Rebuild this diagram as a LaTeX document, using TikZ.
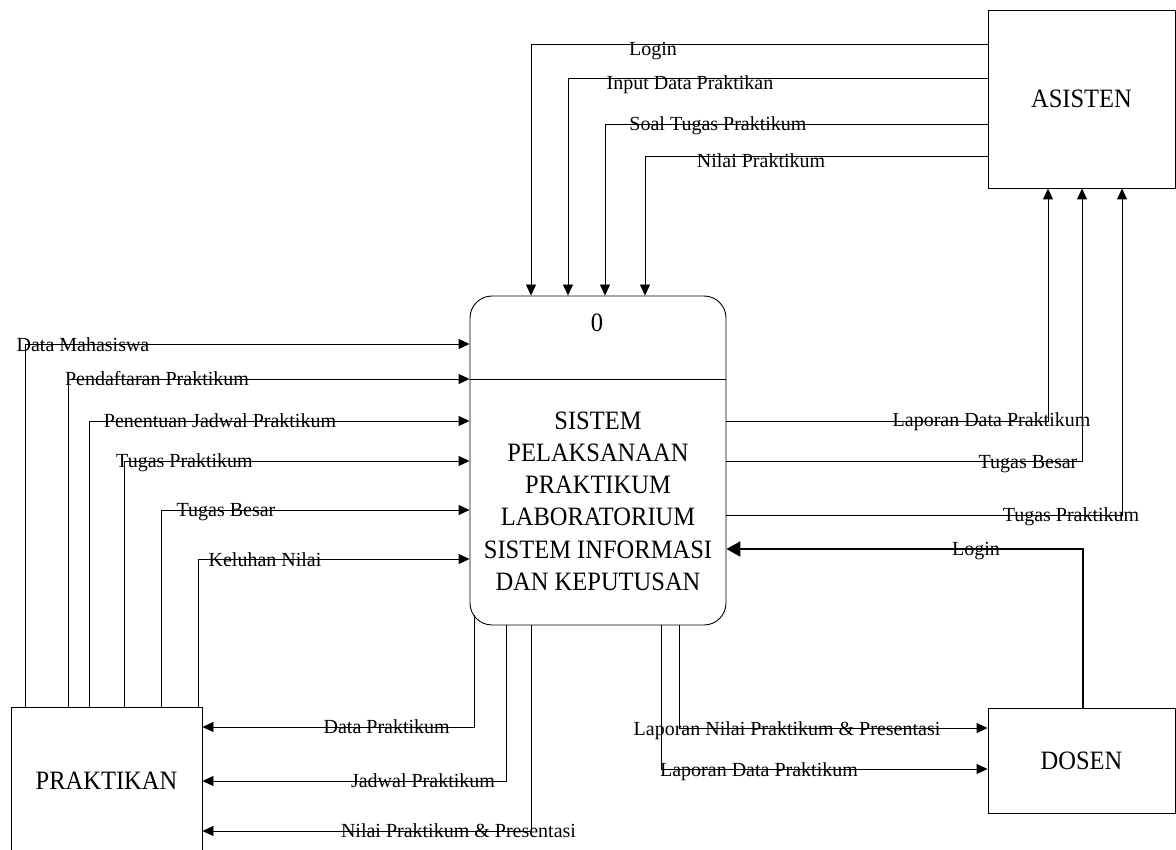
\documentclass[tikz,border=0pt]{standalone}
\usepackage{fontspec}
\setmainfont{Liberation Serif}
\newfontfamily\bigserif[FakeStretch=0.925]{Liberation Serif}
\usetikzlibrary{arrows.meta}

\begin{document}
\begin{tikzpicture}[x=1pt, y=-1pt,
    entity/.style={draw, line width=0.9pt, inner sep=0pt, font=\bigserif\fontsize{26.5}{30}\selectfont},
    flow/.style={draw, line width=0.9pt, -{Triangle[length=11pt, width=10pt]}},
    lbl/.style={anchor=base, inner sep=0pt, font=\fontsize{20}{24}\selectfont}]
  \useasboundingbox (0,0) rectangle (1176,850);

  \node[entity, minimum width=187pt, minimum height=178pt] (asisten) at (1081.5,99) {ASISTEN};
  \node[entity, minimum width=191pt, minimum height=146pt] (prak) at (106.5,780.5) {PRAKTIKAN};
  \node[entity, minimum width=187pt, minimum height=105pt] (dosen) at (1081.5,760.5) {DOSEN};
  \node[draw, line width=0.9pt, rounded corners=22pt, minimum width=256pt, minimum height=329pt] (proc) at (598,460.5) {};
  \draw[line width=0.9pt] (proc.west |- 0,379) -- (proc.east |- 0,379);
  \node[inner sep=0pt, font=\bigserif\fontsize{26.5}{30}\selectfont] (pnum) at (597,322.5) {0};
  \node[inner sep=0pt, align=center, font=\bigserif\fontsize{26.5}{32.3}\selectfont] (pname) at (598,501.2)
    {SISTEM\\PELAKSANAAN\\PRAKTIKUM\\LABORATORIUM\\SISTEM INFORMASI\\DAN KEPUTUSAN};

  \draw[flow] (asisten.west |- 0,44) -| (531,0 |- proc.north);
  \draw[flow] (asisten.west |- 0,78) -| (568,0 |- proc.north);
  \draw[flow] (asisten.west |- 0,124) -| (605,0 |- proc.north);
  \draw[flow] (asisten.west |- 0,156) -| (645,0 |- proc.north);
  \node[lbl] (l1) at (653,56) {Login};
  \node[lbl] (l2) at (690,90) {Input Data Praktikan};
  \node[lbl] (l3) at (718,130.7) {Soal Tugas Praktikum};
  \node[lbl] (l4) at (761,167.7) {Nilai Praktikum};

  \draw[flow] (25,0 |- prak.north) |- (proc.west |- 0,344);
  \draw[flow] (68,0 |- prak.north) |- (proc.west |- 0,379);
  \draw[flow] (89,0 |- prak.north) |- (proc.west |- 0,421);
  \draw[flow] (124,0 |- prak.north) |- (proc.west |- 0,461);
  \draw[flow] (161,0 |- prak.north) |- (proc.west |- 0,510);
  \draw[flow] (198,0 |- prak.north) |- (proc.west |- 0,559);
  \node[lbl] (l5) at (83,351.7) {Data Mahasiswa};
  \node[lbl] (l6) at (157,386) {Pendaftaran Praktikum};
  \node[lbl] (l7) at (220,427.3) {Penentuan Jadwal Praktikum};
  \node[lbl] (l8) at (184.5,467) {Tugas Praktikum};
  \node[lbl] (l9) at (226,516.7) {Tugas Besar};
  \node[lbl] (l10) at (265,566.7) {Keluhan Nilai};

  \draw[flow] (proc.east |- 0,421) -| (1048,0 |- asisten.south);
  \draw[flow] (proc.east |- 0,461) -| (1082,0 |- asisten.south);
  \draw[flow] (proc.east |- 0,515) -| (1122,0 |- asisten.south);
  \draw[flow, line width=2.4pt, -{Triangle[length=14pt, width=15pt]}] (1083,0 |- dosen.north) |- (proc.east |- 0,549);
  \node[lbl] (l11) at (991.5,427) {Laporan Data Praktikum};
  \node[lbl] (l12) at (1028,468) {Tugas Besar};
  \node[lbl] (l13) at (1071,521.7) {Tugas Praktikum};
  \node[lbl] (l14) at (976,555.7) {Login};

  \draw[flow] ([yshift=10pt]474,0 |- proc.south) |- (prak.east |- 0,727);
  \draw[flow] (506,0 |- proc.south) |- (prak.east |- 0,781);
  \draw[flow] (531,0 |- proc.south) |- (prak.east |- 0,831);
  \draw[flow] (679,0 |- proc.south) |- (dosen.west |- 0,728);
  \draw[flow] (661,0 |- proc.south) |- (dosen.west |- 0,769);
  \node[lbl] (l15) at (386.7,733) {Data Praktikum};
  \node[lbl] (l16) at (423,787) {Jadwal Praktikum};
  \node[lbl] (l17) at (458.5,837) {Nilai Praktikum \& Presentasi};
  \node[lbl] (l18) at (787,735) {Laporan Nilai Praktikum \& Presentasi};
  \node[lbl] (l19) at (759,776.7) {Laporan Data Praktikum};
\end{tikzpicture}
\end{document}
